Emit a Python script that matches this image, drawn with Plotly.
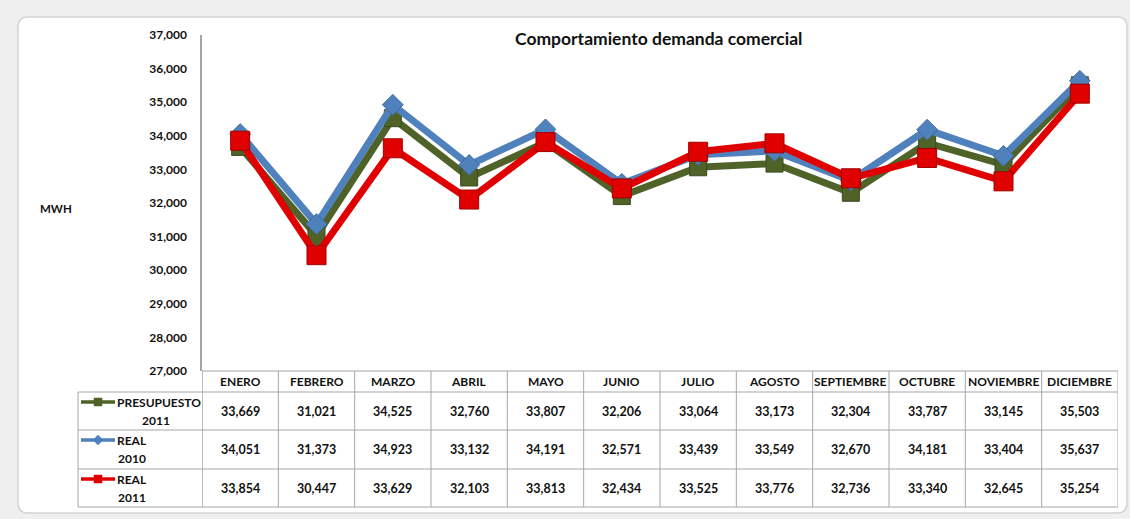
import plotly.graph_objects as go

W, H = 1130, 519

months = ["ENERO", "FEBRERO", "MARZO", "ABRIL", "MAYO", "JUNIO", "JULIO",
          "AGOSTO", "SEPTIEMBRE", "OCTUBRE", "NOVIEMBRE", "DICIEMBRE"]
presupuesto_2011 = [33669, 31021, 34525, 32760, 33807, 32206, 33064, 33173, 32304, 33787, 33145, 35503]
real_2010 = [34051, 31373, 34923, 33132, 34191, 32571, 33439, 33549, 32670, 34181, 33404, 35637]
real_2011 = [33854, 30447, 33629, 32103, 33813, 32434, 33525, 33776, 32736, 33340, 32645, 35254]
y_ticks = [27000, 28000, 29000, 30000, 31000, 32000, 33000, 34000, 35000, 36000, 37000]

GREEN, BLUE, RED = "#4f6228", "#4f81bd", "#e00000"
FONT = "Lato"
TXT = "#111111"
FS = 12

def px(x):
    return x / W

def py(y):
    return 1 - y / H

x_idx = list(range(len(months)))

fig = go.Figure()
fig.add_trace(go.Scatter(x=x_idx, y=presupuesto_2011, mode="lines+markers",
                         line=dict(color=GREEN, width=7),
                         marker=dict(symbol="square", size=17, color=GREEN,
                                     line=dict(color="#3b4a1e", width=1))))
fig.add_trace(go.Scatter(x=x_idx, y=real_2010, mode="lines+markers",
                         line=dict(color=BLUE, width=7),
                         marker=dict(symbol="diamond", size=16, color=BLUE,
                                     line=dict(color="#3d6a9e", width=1))))
fig.add_trace(go.Scatter(x=x_idx, y=real_2011, mode="lines+markers",
                         line=dict(color=RED, width=7),
                         marker=dict(symbol="square", size=19, color=RED,
                                     line=dict(color="#a00000", width=1))))

shapes = []
ann = []

x0, y0, x1, y1, r = 18, 17, 1127, 513, 10
path = (f"M {px(x0+r)},{py(y0)} L {px(x1-r)},{py(y0)} Q {px(x1)},{py(y0)} {px(x1)},{py(y0+r)} "
        f"L {px(x1)},{py(y1-r)} Q {px(x1)},{py(y1)} {px(x1-r)},{py(y1)} "
        f"L {px(x0+r)},{py(y1)} Q {px(x0)},{py(y1)} {px(x0)},{py(y1-r)} "
        f"L {px(x0)},{py(y0+r)} Q {px(x0)},{py(y0)} {px(x0+r)},{py(y0)} Z")
shapes.append(dict(type="path", xref="paper", yref="paper", path=path,
                   fillcolor="white", line=dict(color="#d4d4d4", width=1.5), layer="below"))

GRID = "#a6a6a6"
y_head_top, y_head_bot = 371, 392
row_edges = [392, 430, 469, 507]
for yy in [y_head_top] + row_edges:
    shapes.append(dict(type="line", xref="x", yref="paper", x0=-0.5, x1=len(months) - 0.5,
                       y0=py(yy), y1=py(yy), line=dict(color=GRID, width=1)))
for yy in row_edges:
    shapes.append(dict(type="line", xref="paper", yref="paper", x0=px(78), x1=px(202),
                       y0=py(yy), y1=py(yy), line=dict(color=GRID, width=1)))
shapes.append(dict(type="line", xref="paper", yref="paper", x0=px(78), x1=px(78),
                   y0=py(row_edges[0]), y1=py(row_edges[-1]), line=dict(color=GRID, width=1)))
for i in range(1, len(months) + 1):
    shapes.append(dict(type="line", xref="x", yref="paper", x0=i - 0.5, x1=i - 0.5,
                       y0=py(y_head_top), y1=py(row_edges[-1]), line=dict(color=GRID, width=1)))
shapes.append(dict(type="line", xref="x", yref="paper", x0=-0.5, x1=-0.5,
                   y0=py(y_head_top), y1=py(row_edges[-1]), line=dict(color=GRID, width=1.5)))

for i, m in enumerate(months):
    ann.append(dict(x=i, y=py((y_head_top + y_head_bot) / 2), xref="x", yref="paper", yanchor="middle",
                    text=f"<b>{m}</b>", showarrow=False, font=dict(size=FS, color=TXT, family=FONT)))

series = [presupuesto_2011, real_2010, real_2011]
for r_i, vals in enumerate(series):
    yc = (row_edges[r_i] + row_edges[r_i + 1]) / 2
    for i, v in enumerate(vals):
        ann.append(dict(x=i, y=py(yc), xref="x", yref="paper", yanchor="middle", text=f"<b>{v:,}</b>",
                        showarrow=False, font=dict(size=12.5, color=TXT, family=FONT)))

keys = [(GREEN, "square", "PRESUPUESTO", "2011", True),
        (BLUE, "diamond", "REAL", "2010", False),
        (RED, "square", "REAL", "2011", False)]
for r_i, (col, sym, l1, l2, centered) in enumerate(keys):
    top = row_edges[r_i]
    ly = top + 10
    shapes.append(dict(type="line", xref="paper", yref="paper", x0=px(81), x1=px(115),
                       y0=py(ly), y1=py(ly), line=dict(color=col, width=3.5)))
    mx = 98
    if sym == "square":
        shapes.append(dict(type="rect", xref="paper", yref="paper", x0=px(mx - 4), x1=px(mx + 4),
                           y0=py(ly - 4), y1=py(ly + 4), fillcolor=col, line=dict(color=col, width=0.5)))
    else:
        d = f"M {px(mx)},{py(ly-5)} L {px(mx+5)},{py(ly)} L {px(mx)},{py(ly+5)} L {px(mx-5)},{py(ly)} Z"
        shapes.append(dict(type="path", xref="paper", yref="paper", path=d,
                           fillcolor=col, line=dict(color=col, width=0.5)))
    ann.append(dict(x=px(115), y=py(ly), xref="paper", yref="paper", xanchor="left", yanchor="middle",
                    text=f"<b>{l1}</b>", showarrow=False, font=dict(size=FS, color=TXT, family=FONT)))
    if centered:
        ann.append(dict(x=px(156), y=py(ly + 18), xref="paper", yref="paper", xanchor="center", yanchor="middle",
                        text=f"<b>{l2}</b>", showarrow=False, font=dict(size=FS, color=TXT, family=FONT)))
    else:
        ann.append(dict(x=px(116), y=py(ly + 18), xref="paper", yref="paper", xanchor="left", yanchor="middle",
                        text=f"<b>{l2}</b>", showarrow=False, font=dict(size=FS, color=TXT, family=FONT)))

ann.append(dict(x=px(38), y=py(208), xref="paper", yref="paper", xanchor="left", yanchor="middle",
                text="<b>MWH</b>", showarrow=False, font=dict(size=11.5, color=TXT, family=FONT)))
ann.append(dict(x=px(658), y=py(38), xref="paper", yref="paper", xanchor="center", yanchor="middle",
                text="<b>Comportamiento demanda comercial</b>", showarrow=False,
                font=dict(size=17.5, color=TXT, family=FONT)))

fig.update_layout(
    width=W, height=H, autosize=False,
    margin=dict(l=0, r=0, t=0, b=0, pad=0),
    paper_bgcolor="#efefef",
    plot_bgcolor="rgba(0,0,0,0)",
    showlegend=False,
    shapes=shapes,
    annotations=ann,
    xaxis=dict(domain=[px(202), px(1118)], range=[-0.5, len(months) - 0.5],
               showticklabels=False, showgrid=False, zeroline=False, showline=False,
               fixedrange=True, automargin=False),
    yaxis=dict(domain=[py(371), py(35)], range=[27000, 37000],
               tickvals=y_ticks, ticktext=[f"<b>{v:,}</b>" for v in y_ticks],
               tickfont=dict(size=FS, color=TXT, family=FONT),
               showgrid=False, zeroline=False, showline=True, linecolor=GRID, linewidth=1.5,
               ticks="", ticklabelstandoff=11, fixedrange=True, automargin=False),
)

fig.write_html("out.html")
